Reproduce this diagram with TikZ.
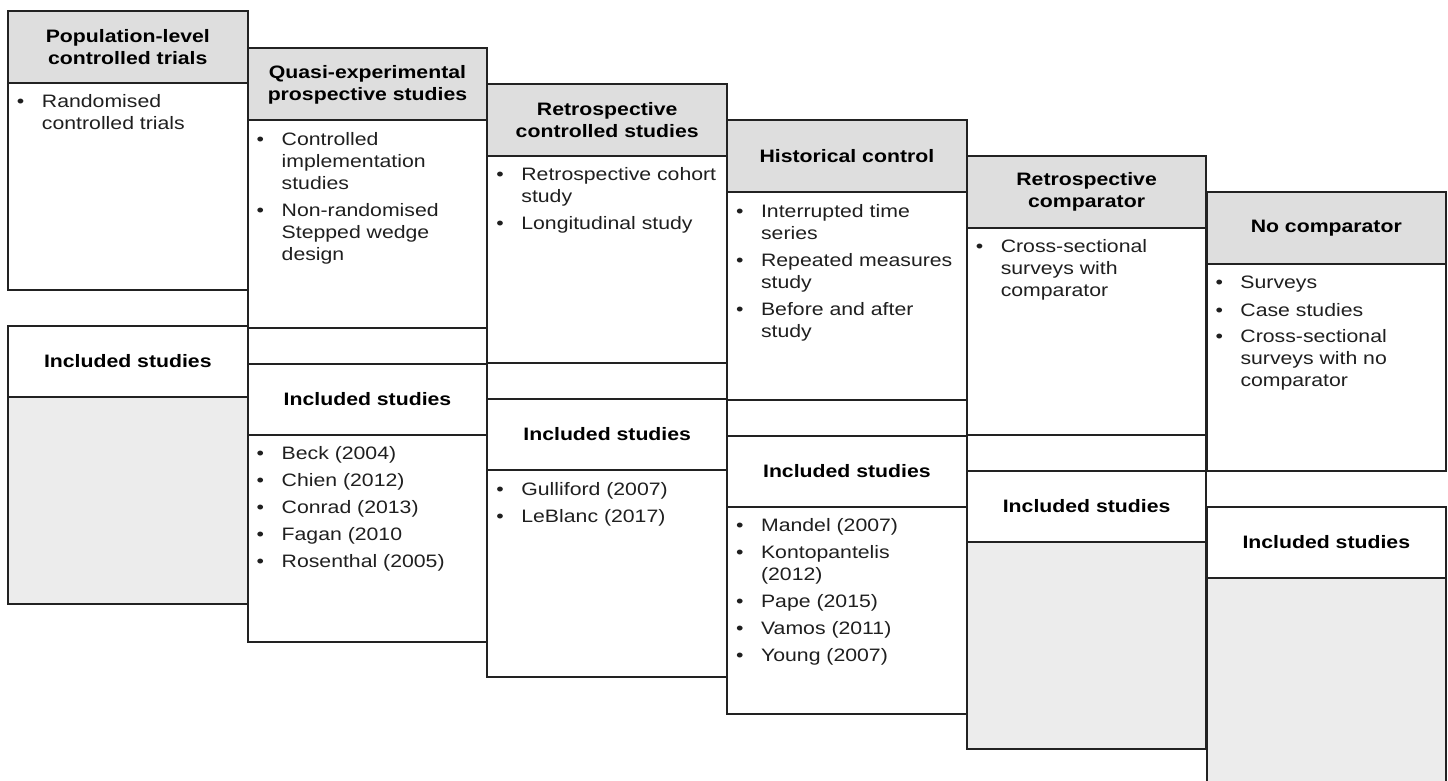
\documentclass[tikz,border=0pt]{standalone}
\usepackage{fontspec}
\setmainfont{Liberation Sans}[FakeStretch=1.18]
\definecolor{hdrgray}{HTML}{DEDEDE}
\definecolor{hatchgray}{HTML}{ECECEC}
\definecolor{linegray}{HTML}{222222}
\newcommand{\blist}[1]{\begin{tabular}[t]{@{}p{12.5pt}@{}l@{}}#1\end{tabular}}
\newcommand{\bu}{\textbullet}
\begin{document}
\begin{tikzpicture}[x=0.5pt,y=-0.5pt,
 box/.style={draw=linegray, line width=1pt, anchor=north west, minimum width=119.8pt, inner sep=0pt, outer sep=0pt},
 hdrbox/.style={box, fill=hdrgray, minimum height=36pt, align=center, font=\bfseries\fontsize{9}{11}\selectfont},
 bodybox/.style={box, fill=white, minimum height=103.5pt},
 bandbox/.style={box, fill=white, minimum height=18pt},
 incbox/.style={box, fill=white, minimum height=35.5pt, font=\bfseries\fontsize{9}{11}\selectfont},
 listbox/.style={box, fill=white, minimum height=103.5pt},
 hatchbox/.style={listbox, fill=hatchgray},
 items/.style={anchor=base west, inner sep=0pt, outer sep=0pt, font=\fontsize{9}{11}\selectfont, text=black!88},
]
\useasboundingbox (0,0) rectangle (1448,781);

% Column 1
\node[hdrbox] (h1) at (8,11) {Population-level\\controlled trials};
\node[bodybox] (b1) at (8,83) {};
\node[incbox] (i1) at (8,326) {Included studies};
\node[hatchbox] (l1) at (8,397) {};
\node[items] (t1) at (17,108) {\blist{\bu & Randomised\\ & controlled trials}};

% Column 2
\node[hdrbox] (h2) at (247.7,48.5) {Quasi-experimental\\prospective studies};
\node[bodybox] (b2) at (247.7,120.5) {};
\node[bandbox] (g2) at (247.7,327.5) {};
\node[incbox] (i2) at (247.7,363.5) {Included studies};
\node[listbox] (l2) at (247.7,434.5) {};
\node[items] (t2) at (256.7,145.5) {\blist{\bu & Controlled\\ & implementation\\ & studies\\[2.5pt] \bu & Non-randomised\\ & Stepped wedge\\ & design}};
\node[items] (s2) at (256.7,459.5) {\blist{\bu & Beck (2004)\\[2.5pt] \bu & Chien (2012)\\[2.5pt] \bu & Conrad (2013)\\[2.5pt] \bu & Fagan (2010\\[2.5pt] \bu & Rosenthal (2005)}};

% Column 3
\node[hdrbox] (h3) at (487.4,84) {Retrospective\\controlled studies};
\node[bodybox] (b3) at (487.4,156) {};
\node[bandbox] (g3) at (487.4,363) {};
\node[incbox] (i3) at (487.4,399) {Included studies};
\node[listbox] (l3) at (487.4,470) {};
\node[items] (t3) at (496.4,181) {\blist{\bu & Retrospective cohort\\ & study\\[2.5pt] \bu & Longitudinal study}};
\node[items] (s3) at (496.4,495) {\blist{\bu & Gulliford (2007)\\[2.5pt] \bu & LeBlanc (2017)}};

% Column 4
\node[hdrbox] (h4) at (727.1,120.5) {Historical control};
\node[bodybox] (b4) at (727.1,192.5) {};
\node[bandbox] (g4) at (727.1,399.5) {};
\node[incbox] (i4) at (727.1,435.5) {Included studies};
\node[listbox] (l4) at (727.1,506.5) {};
\node[items] (t4) at (736.1,217.5) {\blist{\bu & Interrupted time\\ & series\\[2.5pt] \bu & Repeated measures\\ & study\\[2.5pt] \bu & Before and after\\ & study}};
\node[items] (s4) at (736.1,531.5) {\blist{\bu & Mandel (2007)\\[2.5pt] \bu & Kontopantelis\\ & (2012)\\[2.5pt] \bu & Pape (2015)\\[2.5pt] \bu & Vamos (2011)\\[2.5pt] \bu & Young (2007)}};

% Column 5
\node[hdrbox] (h5) at (966.8,156) {Retrospective\\comparator};
\node[bodybox] (b5) at (966.8,228) {};
\node[bandbox] (g5) at (966.8,435) {};
\node[incbox] (i5) at (966.8,471) {Included studies};
\node[hatchbox] (l5) at (966.8,542) {};
\node[items] (t5) at (975.8,253) {\blist{\bu & Cross-sectional\\ & surveys with\\ & comparator}};

% Column 6
\node[hdrbox] (h6) at (1206.5,192) {No comparator};
\node[bodybox] (b6) at (1206.5,264) {};
\node[incbox] (i6) at (1206.5,507) {Included studies};
\node[hatchbox] (l6) at (1206.5,578) {};
\node[items] (t6) at (1215.5,289) {\blist{\bu & Surveys\\[2.5pt] \bu & Case studies\\[2.5pt] \bu & Cross-sectional\\ & surveys with no\\ & comparator}};
\end{tikzpicture}
\end{document}
